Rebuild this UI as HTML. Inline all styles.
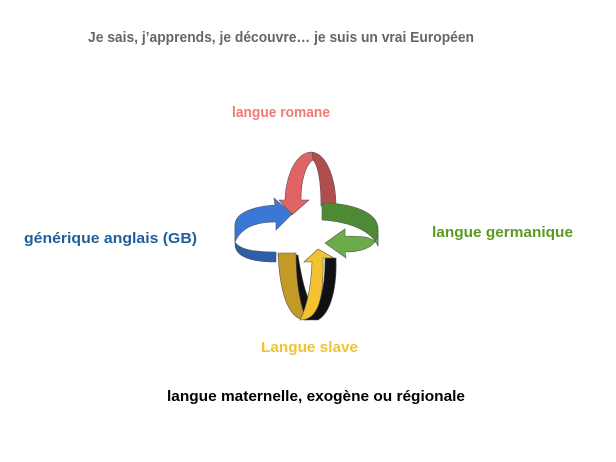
<!DOCTYPE html>
<html><head><meta charset="utf-8"><style>
html,body{margin:0;padding:0;background:#fff;width:616px;height:462px;overflow:hidden}
svg{display:block}
text{font-family:"Liberation Sans",sans-serif;font-weight:bold}
</style></head><body>
<svg width="616" height="462" viewBox="0 0 616 462" xmlns="http://www.w3.org/2000/svg">
<text x="88" y="42" font-size="15" fill="#666" textLength="386" lengthAdjust="spacingAndGlyphs">Je sais, j’apprends, je découvre… je suis un vrai Européen</text>
<text x="232" y="117" font-size="15" fill="#f07a74" textLength="98" lengthAdjust="spacingAndGlyphs">langue romane</text>
<text x="432" y="237" font-size="15" fill="#5a9a24" textLength="141" lengthAdjust="spacingAndGlyphs">langue germanique</text>
<text x="24" y="243" font-size="15" fill="#1e5f9c" textLength="173" lengthAdjust="spacingAndGlyphs">générique  anglais (GB)</text>
<text x="261" y="352" font-size="15" fill="#f2c230" textLength="97" lengthAdjust="spacingAndGlyphs">Langue slave</text>
<text x="167" y="401" font-size="15" fill="#000" textLength="298" lengthAdjust="spacingAndGlyphs">langue maternelle, exogène ou régionale</text>

<g stroke="#555" stroke-width="0.6">
<!-- red -->
<path d="M312,152 C328,154 336,182 336,206 L321,206 C321,182 318,165 313,160 Z" fill="#b04e4e"/>
<path d="M312,152 C296,152 286,175 285,200 L279,200 L292,215 L309,200 L301,200 C301,180 306,164 313,160 Z" fill="#e06464"/>
<!-- green -->
<path d="M322,203 C352,203 377,212 378,228 L378,246 C372,232 352,222 322,220 Z" fill="#4e8a36"/>
<path d="M378,230 C379,246 364,252 345,252 L346,258 L325,243 L345,229 L345,236 C362,236 374,236 378,246 Z" fill="#6aac4a"/>
<!-- blue -->
<path d="M235,226 C234,212 256,206 275,205 L274,198 L292,214 L276,230 L276,222 C258,222 242,226 235,242 Z" fill="#3a78d8"/>
<path d="M235,226 L235,242 C240,250 256,252 276,252 L276,262 C254,262 235,258 235,244 Z" fill="#2e5ea8"/>
<!-- yellow/black -->
<path d="M278,255 L298,255 C302,280 306,300 318,316 L305,320 C294,312 284,290 278,255 Z" fill="#111"/>
<path d="M278,253 L296,253 C296,272 297,295 306,320 C291,320 280,300 278,253 Z" fill="#c49a26"/>
<path d="M336,258 L325,258 C325,290 320,310 305,320 L318,320 C332,312 337,285 336,258 Z" fill="#111"/>
<path d="M323,258 L334,258 L318,249 L304,262 L312,262 C311,290 306,308 300,320 C318,320 324,300 323,258 Z" fill="#f2c230"/>
</g>
</svg>
</body></html>
